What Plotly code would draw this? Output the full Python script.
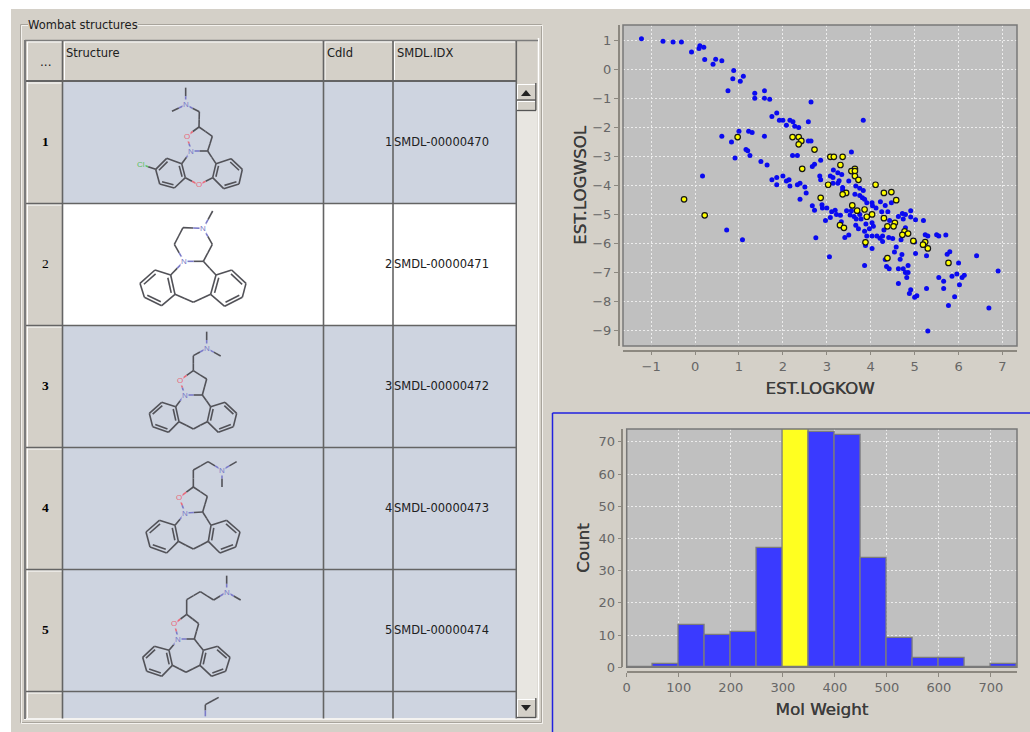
import plotly.graph_objects as go

# ---------- chart data ----------
blue_logkow = [-1.22,-0.73,-0.50,-0.31,0.11,0.20,0.09,-0.08,0.22,0.47,0.41,0.61,0.88,0.86,1.10,1.03,0.75,1.36,1.36,1.58,1.58,1.70,2.64,1.86,1.75,1.92,2.00,2.16,2.23,2.08,2.27,2.36,2.58,3.83,0.61,0.83,1.00,1.22,1.30,1.58,2.58,2.64,1.16,1.20,1.25,0.91,2.22,2.33,1.50,1.64,2.86,2.72,2.67,3.56,0.17,1.75,1.86,2.00,2.14,2.08,1.86,2.16,2.39,2.33,2.50,2.53,2.39,2.84,2.86,3.15,3.25,3.34,3.08,3.14,3.14,3.25,3.28,3.36,3.36,3.50,3.66,3.75,3.83,3.64,3.75,3.81,3.86,3.91,4.03,4.04,4.22,4.33,4.47,2.67,2.72,2.89,2.90,3.00,3.11,3.19,3.22,3.31,3.08,2.97,3.45,3.56,3.53,3.62,3.67,3.75,3.78,3.33,3.66,3.72,3.89,4.03,4.06,3.97,3.86,3.91,4.03,4.14,4.21,4.27,4.27,4.30,4.41,4.50,3.50,3.41,2.75,4.03,3.88,3.06,3.86,0.72,1.08,4.12,4.39,4.25,4.43,4.91,4.63,4.72,4.79,4.74,4.91,5.02,5.20,4.79,5.24,5.30,5.50,5.55,5.71,4.69,4.58,4.54,4.71,4.67,5.02,5.27,5.74,5.80,6.00,6.41,6.90,4.33,4.36,4.42,4.63,4.74,4.85,4.79,4.85,4.82,4.63,5.55,5.66,5.85,5.96,6.08,6.13,6.02,5.66,5.27,5.91,5.77,6.69,5.30,4.91,4.88,5.00,5.05,5.00]
blue_logwsol = [1.04,0.96,0.93,0.93,0.80,0.75,0.71,0.59,0.33,0.34,0.17,0.29,-0.05,-0.33,-0.25,-0.42,-0.75,-0.83,-1.00,-0.75,-1.00,-1.04,-1.13,-1.51,-1.63,-1.76,-1.76,-1.76,-1.81,-1.93,-1.97,-2.01,-1.81,-1.76,-2.31,-2.51,-2.14,-2.14,-2.18,-2.31,-2.47,-2.47,-2.77,-2.81,-2.97,-3.06,-2.97,-2.97,-3.18,-3.30,-3.14,-3.27,-3.35,-2.85,-3.68,-3.81,-3.73,-3.68,-3.81,-3.85,-3.98,-4.02,-3.93,-3.98,-4.06,-4.26,-4.48,-3.68,-3.81,-3.47,-3.57,-3.63,-3.68,-3.73,-3.93,-3.93,-3.84,-4.07,-4.16,-3.85,-4.02,-4.10,-4.18,-4.31,-4.35,-4.43,-4.48,-4.60,-4.60,-4.70,-4.56,-4.69,-4.60,-4.70,-4.86,-4.67,-4.78,-4.78,-4.91,-4.86,-5.00,-5.03,-5.11,-5.21,-4.87,-4.87,-5.02,-5.07,-5.16,-5.00,-5.16,-5.25,-5.37,-5.49,-5.33,-5.29,-5.41,-5.49,-5.58,-5.74,-5.74,-5.74,-5.82,-5.74,-5.93,-5.54,-5.79,-5.83,-5.71,-5.79,-5.80,-6.17,-6.07,-6.46,-6.76,-5.54,-5.87,-4.78,-4.91,-4.91,-5.21,-4.87,-5.07,-4.97,-5.00,-5.16,-5.09,-5.18,-5.21,-5.46,-5.70,-5.74,-5.70,-5.74,-5.71,-5.87,-6.12,-6.29,-6.38,-6.54,-6.34,-6.42,-6.37,-6.28,-6.67,-6.42,-6.95,-6.55,-6.79,-6.87,-6.87,-6.87,-6.76,-7.00,-7.00,-7.17,-7.38,-7.17,-7.30,-7.13,-7.05,-7.17,-7.09,-7.42,-7.55,-7.55,-7.83,-8.13,-8.22,-9.01,-7.59,-7.72,-7.85,-7.80,-5.95]

yellow_logkow = [0.97,2.22,2.36,2.42,2.36,2.72,3.08,3.16,3.36,3.31,2.44,3.64,3.56,3.64,3.64,3.72,3.03,4.11,4.30,4.47,4.58,2.86,3.44,3.36,3.58,-0.25,0.22,3.69,3.86,3.91,4.03,4.30,4.55,4.38,4.52,3.30,3.39,4.77,4.72,4.85,4.97,5.24,5.19,5.30,3.88,4.38,5.77]
yellow_logwsol = [-2.34,-2.34,-2.34,-2.47,-2.59,-2.77,-3.02,-3.02,-3.02,-3.30,-3.43,-3.43,-3.51,-3.51,-3.68,-3.81,-3.98,-3.98,-4.26,-4.23,-4.51,-4.43,-4.26,-4.31,-4.69,-4.48,-5.03,-4.87,-4.83,-5.08,-5.00,-5.13,-5.29,-5.41,-5.41,-5.37,-5.46,-5.58,-5.70,-5.66,-5.91,-5.95,-6.04,-6.17,-5.96,-6.50,-6.67]

mw_bin_start = [0,50,100,150,200,250,300,350,400,450,500,550,600,650,700]
mw_count = [0,1,13,10,11,37,74,73,72,34,9,3,3,0,1]
mw_selected_bin = 300

row_numbers = ["1","2","3","4","5"]
cd_ids = ["1","2","3","4","5"]
smdl_ids = ["SMDL-00000470","SMDL-00000471","SMDL-00000472","SMDL-00000473","SMDL-00000474"]
col_titles = ["...","Structure","CdId","SMDL.IDX"]

# ---------- structure drawings (atoms as traced in the table cells) ----------
mol1 = dict(o=(10,10), atoms=dict(m1=(527,233,"C"),n=(527,284,"N"),m2=(486,304,"C"),c1=(568,305,"C"),c5=(567,351,"C"),ox=(530,378,"O"),cb=(607,379,"C"),c3=(593,423,"C"),n2=(544,423,"N"),cl=(392,462,"Cl"),br=(566,524,"O")),
    bonds=[("m1","n"),("n","m2"),("n","c1"),("c1","c5"),("c5","ox"),("c5","cb"),("cb","c3"),("c3","n2"),("n2","ox"),("n2","L0"),("c3","R0"),("L5","br"),("R5","br"),("L2","cl")],
    left=[(515,461),(470,445),(437,478),(449,522),(493,534),(526,503)], right=[(618,461),(663,446),(697,478),(687,522),(641,536),(608,503)],
    labels=[("n","N"),("ox","O"),("n2","N"),("br","O"),("cl","Cl")], bg="#ced4e0")
mol2 = dict(o=(60,205), atoms=dict(m1=(458,18,"C"),n=(430,70,"N"),c1=(369,68,"C"),c2=(343,118,"C"),n2=(372,169,"N"),c3=(430,169,"C"),c4=(457,118,"C"),br=(400,292,"C")),
    bonds=[("m1","n"),("n","c1"),("c1","c2"),("c2","n2"),("n2","c3"),("c3","c4"),("c4","n"),("n2","L0"),("c3","R0"),("L5","br"),("R5","br")],
    left=[(332,210),(285,195),(240,235),(253,277),(305,302),(345,268)], right=[(468,210),(515,195),(558,235),(547,277),(494,304),(452,268)],
    labels=[("n","N"),("n2","N")], bg="#ffffff")
mol3 = dict(o=(60,205), atoms=dict(m1=(440,380,"C"),n=(440,430,"N"),m2=(482,453,"C"),c1=(400,452,"C"),c5=(400,497,"C"),ox=(360,525,"O"),cb=(440,522,"C"),c3=(427,570,"C"),n2=(374,570,"N"),br=(400,672,"C")),
    bonds=[("m1","n"),("n","m2"),("n","c1"),("c1","c5"),("c5","ox"),("c5","cb"),("cb","c3"),("c3","n2"),("n2","ox"),("n2","L0"),("c3","R0"),("L5","br"),("R5","br")],
    left=[(347,605),(305,592),(268,625),(278,665),(325,682),(357,650)], right=[(452,605),(495,592),(530,625),(520,665),(475,682),(442,650)],
    labels=[("n","N"),("ox","O"),("n2","N")], bg="#ced4e0")
mol4 = dict(o=(60,448), atoms=dict(m1=(530,41,"C"),n=(486,66,"N"),m2=(486,117,"C"),c0=(444,41,"C"),c1=(400,66,"C"),c5=(400,117,"C"),ox=(358,148,"O"),cb=(442,145,"C"),c3=(428,192,"C"),n2=(375,195,"N"),br=(400,303,"C")),
    bonds=[("m1","n"),("n","m2"),("n","c0"),("c0","c1"),("c1","c5"),("c5","ox"),("c5","cb"),("cb","c3"),("c3","n2"),("n2","ox"),("n2","L0"),("c3","R0"),("L5","br"),("R5","br")],
    left=[(345,232),(298,217),(258,252),(270,297),(320,315),(355,280)], right=[(453,232),(500,217),(540,252),(527,297),(480,315),(445,280)],
    labels=[("n","N"),("ox","O"),("n2","N")], bg="#ced4e0")
mol5 = dict(o=(60,448), atoms=dict(m1=(500,383,"C"),n=(500,432,"N"),m2=(542,456,"C"),c0=(461,456,"C"),c00=(421,431,"C"),c1=(380,455,"C"),c5=(380,499,"C"),ox=(343,527,"O"),cb=(416,527,"C"),c3=(403,573,"C"),n2=(355,573,"N"),br=(378,673,"C")),
    bonds=[("m1","n"),("n","m2"),("n","c0"),("c0","c00"),("c00","c1"),("c1","c5"),("c5","ox"),("c5","cb"),("cb","c3"),("c3","n2"),("n2","ox"),("n2","L0"),("c3","R0"),("L5","br"),("R5","br")],
    left=[(327,607),(283,595),(248,628),(260,670),(305,685),(337,652)], right=[(430,607),(473,595),(510,628),(497,670),(455,685),(420,652)],
    labels=[("n","N"),("ox","O"),("n2","N")], bg="#ced4e0")
mol6 = dict(o=(60,448), atoms=dict(a=(476,748,"C"),b=(436,770,"C"),n=(436,805,"N")), bonds=[("a","b"),("b","n")], left=[], right=[], labels=[], bg="#ced4e0")
molecules = [mol1, mol2, mol3, mol4, mol5, mol6]

# ---------- page geometry (pixels) ----------
W, H = 1030, 732
PAGE = "#d4d0c8"; ROW = "#ced4e0"; GRID = "#646464"; CHARTBG = "#c0c0c0"
def fx(x): return x / W
def fy(y): return 1 - y / H

shapes = []
def rect(x0, y0, x1, y1, fill=None, line=None, lw=1, layer="below"):
    shapes.append(dict(type="rect", xref="paper", yref="paper", x0=fx(x0), x1=fx(x1), y0=fy(y1), y1=fy(y0),
                       fillcolor=fill or "rgba(0,0,0,0)", line=dict(color=line or "rgba(0,0,0,0)", width=lw if line else 0), layer=layer))
def hline(x0, x1, y, c, lw=1, layer="below"):
    shapes.append(dict(type="line", xref="paper", yref="paper", x0=fx(x0), x1=fx(x1), y0=fy(y), y1=fy(y), line=dict(color=c, width=lw), layer=layer))
def vline(x, y0, y1, c, lw=1, layer="below"):
    shapes.append(dict(type="line", xref="paper", yref="paper", x0=fx(x), x1=fx(x), y0=fy(y0), y1=fy(y1), line=dict(color=c, width=lw), layer=layer))
def tri(pts):
    d = " ".join(("M" if i == 0 else "L") + f" {fx(a):.5f} {fy(b):.5f}" for i, (a, b) in enumerate(pts)) + " Z"
    shapes.append(dict(type="path", xref="paper", yref="paper", path=d, fillcolor="#222222", line=dict(width=0), layer="below"))

# window
rect(11, 9, W, H, fill=PAGE)
# group box (etched)
rect(20.5, 24.5, 541.5, 722.5, line="#a8a49c")
rect(21.5, 25.5, 542.5, 723.5, line="#f4f2ee")
# table area
rows_y = [82, 204, 326, 448, 570, 692, 718]
rect(26, 41, 538, 718.5, fill=PAGE)
hline(24, 539, 719, "#ffffff", 1.5)
vline(538.5, 38, 719, "#ffffff", 1.5)
vline(25, 40, 719, "#7c7c7c", 2)
hline(25, 538, 40.5, "#7c7c7c", 1.5)
for i in range(6):
    rect(63, rows_y[i], 516, rows_y[i + 1], fill="#ffffff" if i == 1 else ROW)
    hline(27, 62, rows_y[i] + 1, "#ffffff", 1)
    vline(27.5, rows_y[i], rows_y[i + 1], "#ffffff", 1)
col_x = [26, 63, 323.5, 393, 516]
for a, b in zip(col_x[:-1], col_x[1:]):
    hline(a + 1, b - 1, 42, "#ffffff", 1)
    vline(a + 1.5, 42, 80, "#ffffff", 1)
hline(26, 516, 81, GRID, 2)
for y in rows_y[1:-1]:
    hline(26, 516, y - 0.5, GRID, 1.6)
for x in [62.5, 323.5, 393]:
    vline(x, 41, 718.5, GRID, 1.6)
vline(516.3, 41, 718.5, GRID, 1.6)
# scrollbar
rect(517, 110, 537, 699, fill="#e8e6e1")
for (t, b) in [(84, 100), (101, 110.5), (699, 717.5)]:
    rect(517, t, 535.5, b, fill=PAGE)
    hline(517, 535.5, t + 0.5, "#ffffff"); vline(517.5, t, b, "#ffffff")
    hline(517, 536, b, "#555555", 1.3); vline(535.8, t - 1, b, "#555555", 1.3)
tri([(521, 96), (531, 96), (526, 90)])
tri([(521, 705), (531, 705), (526, 711)])
# histogram focus frame
hline(552.5, W, 413, "#2020e0", 1.5)
vline(552.5, 413, H, "#2020e0", 1.5)
# chart plot areas and frames
S = (623, 25, 1017, 346)
P = (626.7, 429, 1017, 667.3)
for (a, b, c, d) in (S, P):
    rect(a, b, c, d, fill=CHARTBG)
    rect(a, b, c, d, line="#787878", lw=1.5, layer="above")

# ---------- annotations ----------
TXT = "DejaVu Sans"
anns = []
def text(x, y, s, size=11.5, color="#202020", family=TXT, xanchor="left", bg=None):
    anns.append(dict(xref="paper", yref="paper", x=fx(x), y=fy(y), text=s, showarrow=False, xanchor=xanchor, yanchor="middle",
                     font=dict(family=family, size=size, color=color), bgcolor=bg, borderpad=0, borderwidth=0))
text(27.5, 25, "Wombat structures", size=11.5, bg=PAGE)
text(45, 62, col_titles[0], xanchor="center", size=12)
text(66, 53, col_titles[1]); text(327, 53, col_titles[2]); text(397, 53, col_titles[3])
for i, (r, c, s) in enumerate(zip(row_numbers, cd_ids, smdl_ids)):
    yc = (rows_y[i] + rows_y[i + 1]) / 2 - 1
    t = r if i == 1 else f"<b>{r}</b>"
    text(45, yc - 0.5, t, size=13.5, family="Liberation Serif", xanchor="center", color="#000000")
    text(391.5, yc, c, xanchor="right")
    text(394, yc, s)

# ---------- figure ----------
fig = go.Figure()
fig.add_trace(go.Scatter(x=blue_logkow, y=blue_logwsol, mode="markers", xaxis="x", yaxis="y", name="all",
                         marker=dict(color="#0a0af0", size=5, line=dict(width=0))))
fig.add_trace(go.Scatter(x=yellow_logkow, y=yellow_logwsol, mode="markers", xaxis="x", yaxis="y", name="selected",
                         marker=dict(color="#ffff00", size=5.5, line=dict(width=1.2, color="#151515"))))
fig.add_trace(go.Bar(x=mw_bin_start, y=mw_count, width=50, offset=0, xaxis="x2", yaxis="y2", name="Mol Weight",
                     marker=dict(color=["#ffff20" if b == mw_selected_bin else "#3a3aff" for b in mw_bin_start],
                                 line=dict(color="#7c7c7c", width=1.3))))

# structure drawings on a pixel-scaled overlay axis
COL = {"C": "#525258", "N": "#7a7ac8", "O": "#e86a7a", "Cl": "#5cc060"}
seg = {k: ([], []) for k in COL}
def add_seg(p, q, e):
    seg[e][0].extend([p[0], q[0], None]); seg[e][1].extend([p[1], q[1], None])
for m in molecules:
    ox, oy = m["o"]
    T = lambda p: (ox + p[0] / 3, oy + p[1] / 3)
    pts = {k: (T(v), v[2]) for k, v in m["atoms"].items()}
    for side, key in (("L", "left"), ("R", "right")):
        for i, p in enumerate(m[key]):
            pts[f"{side}{i}"] = (T(p), "C")
        ring = [T(p) for p in m[key]]
        if ring:
            cx = sum(p[0] for p in ring) / 6; cy = sum(p[1] for p in ring) / 6
            for i in range(6):
                a, b = ring[i], ring[(i + 1) % 6]
                add_seg(a, b, "C")
                if i % 2 == 1:
                    ia = (a[0] + (cx - a[0]) * 0.22, a[1] + (cy - a[1]) * 0.22)
                    ib = (b[0] + (cx - b[0]) * 0.22, b[1] + (cy - b[1]) * 0.22)
                    add_seg(ia, ib, "C")
    for u, v in m["bonds"]:
        (pu, eu), (pv, ev) = pts[u], pts[v]
        mid = ((pu[0] + pv[0]) / 2, (pu[1] + pv[1]) / 2)
        add_seg(pu, mid, eu); add_seg(mid, pv, ev)
    for k, s in m["labels"]:
        (p, e) = pts[k]
        anns.append(dict(xref="x3", yref="y3", x=p[0], y=p[1], text=s, showarrow=False, borderpad=0, bgcolor=m["bg"],
                         font=dict(family="Liberation Sans", size=8, color=COL[e])))
for e, (xs, ys) in seg.items():
    fig.add_trace(go.Scatter(x=xs, y=ys, mode="lines", xaxis="x3", yaxis="y3", line=dict(color=COL[e], width=1.6),
                             hoverinfo="skip", showlegend=False, connectgaps=False))

tickfont = dict(family="DejaVu Sans", size=13, color="#666666")
titlefont = dict(family="DejaVu Sans", size=16.7, color="#3c3c3c", shadow="0.35px 0 0 #3c3c3c")
def axis(**kw):
    d = dict(showgrid=True, gridcolor="#ececec", griddash="2px,2px", gridwidth=1, zeroline=False, showline=True,
             linecolor="#8c8880", linewidth=1.5, ticks="outside", ticklen=4, tickcolor="#8c8880", tickfont=tickfont,
             anchor="free", automargin=False, ticklabelstandoff=0)
    d.update(kw)
    return d

fig.update_layout(
    width=W, height=H, margin=dict(l=0, r=0, t=0, b=0), paper_bgcolor="#ffffff", plot_bgcolor="rgba(0,0,0,0)",
    showlegend=False, bargap=0, shapes=shapes, annotations=anns,
    xaxis=axis(domain=[fx(S[0]), fx(S[2])], range=[-1.64, 7.33], dtick=1, position=fy(350.5), side="bottom",
               title=dict(text="EST.LOGKOW", font=titlefont, standoff=8)),
    yaxis=axis(domain=[fy(S[3]), fy(S[1])], range=[-9.526, 1.516], dtick=1, position=fx(618.7), side="left",
               title=dict(text="EST.LOGWSOL", font=titlefont, standoff=0)),
    xaxis2=axis(domain=[fx(P[0]), fx(P[2])], range=[0, 750], dtick=100, position=fy(672), side="bottom",
                title=dict(text="Mol Weight", font=titlefont, standoff=8)),
    yaxis2=axis(domain=[fy(P[3]), fy(P[1])], range=[0, 74], dtick=10, position=fx(622.3), side="left",
                title=dict(text="Count", font=titlefont, standoff=4)),
    xaxis3=dict(domain=[0, 1], range=[0, W], visible=False, anchor="y3", fixedrange=True),
    yaxis3=dict(domain=[0, 1], range=[H, 0], visible=False, anchor="x3", fixedrange=True),
)
fig.write_html("out.html", config=dict(displayModeBar=False),
               post_script="document.body.style.margin='0';document.body.style.overflow='hidden';")
